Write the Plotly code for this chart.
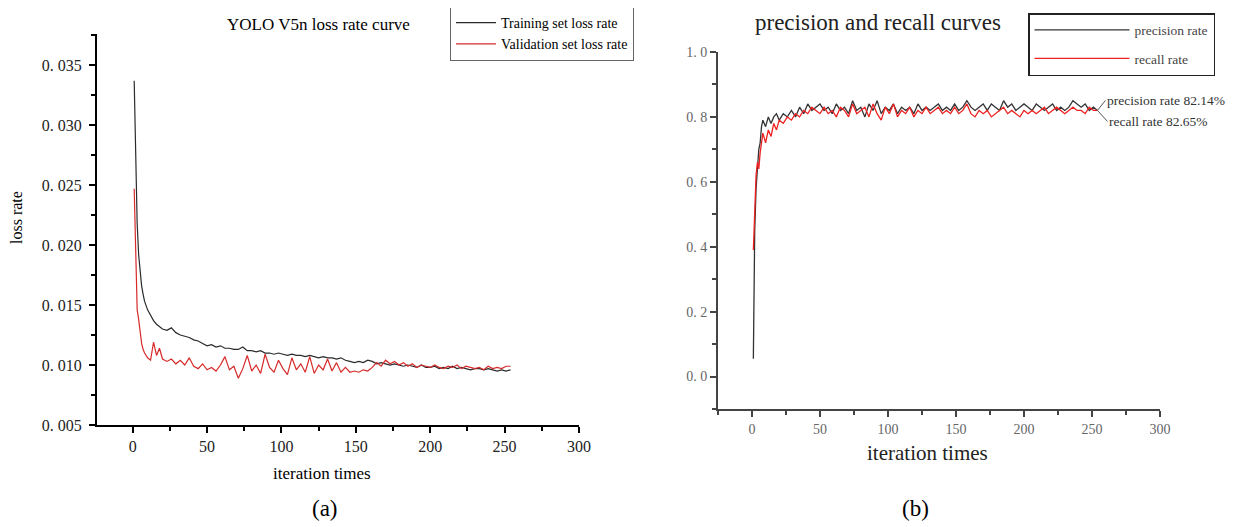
import plotly.graph_objects as go

# ---------------- data: panel (a) ----------------
iter_a = [1, 2, 3, 4, 5, 6, 7, 8, 10, 12, 14, 16, 18, 20,
          23, 26, 29, 32, 35, 38, 41, 44, 47, 50,
          53, 56, 59, 62, 65, 68, 71, 74, 77, 80,
          83, 86, 89, 92, 95, 98, 101, 104, 107, 110,
          113, 116, 119, 122, 125, 128, 131, 134, 137, 140,
          143, 146, 149, 152, 155, 158, 161, 164, 167, 170,
          173, 176, 179, 182, 185, 188, 191, 194, 197, 200,
          203, 206, 209, 212, 215, 218, 221, 224, 227, 230,
          233, 236, 239, 242, 245, 248, 251, 254]
train_loss = [0.0337, 0.0262, 0.0218, 0.0192, 0.0176, 0.0166, 0.0159, 0.0153, 0.0146, 0.0141, 0.0137, 0.0134, 0.0132, 0.0130,
              0.0129, 0.0131, 0.0127, 0.0125, 0.0124, 0.0123, 0.0121, 0.0120, 0.0118, 0.0116,
              0.0117, 0.0115, 0.0116, 0.0114, 0.0114, 0.0113, 0.0113, 0.0115, 0.0112, 0.0112,
              0.0111, 0.0112, 0.0110, 0.0110, 0.0109, 0.0110, 0.0109, 0.0108, 0.0109, 0.0108,
              0.0108, 0.0107, 0.0108, 0.0107, 0.0106, 0.0107, 0.0106, 0.0106, 0.0105, 0.0106,
              0.0104, 0.0103, 0.0102, 0.0103, 0.0102, 0.0104, 0.0103, 0.0101, 0.0102, 0.0101,
              0.0100, 0.0101, 0.0100, 0.0099, 0.0100, 0.0099, 0.0098, 0.0100, 0.0098, 0.0098,
              0.0099, 0.0097, 0.0098, 0.0097, 0.0099, 0.0097, 0.0098, 0.0097, 0.0096, 0.0097,
              0.0097, 0.0096, 0.0097, 0.0096, 0.0095, 0.0096, 0.0095, 0.0096]
val_loss = [0.0247, 0.0198, 0.0146, 0.0138, 0.0126, 0.0118, 0.0113, 0.0110, 0.0106, 0.0104, 0.0119, 0.0108, 0.0114, 0.0105,
            0.0103, 0.0105, 0.0101, 0.0104, 0.0100, 0.0106, 0.0099, 0.0097, 0.0101, 0.0096,
            0.0098, 0.0095, 0.0100, 0.0107, 0.0096, 0.0099, 0.0089, 0.0097, 0.0108, 0.0095,
            0.0100, 0.0093, 0.0109, 0.0098, 0.0094, 0.0104, 0.0097, 0.0092, 0.0106, 0.0096,
            0.0101, 0.0094, 0.0107, 0.0093, 0.0100, 0.0096, 0.0105, 0.0095, 0.0102, 0.0094,
            0.0098, 0.0094, 0.0095, 0.0094, 0.0096, 0.0095, 0.0098, 0.0102, 0.0099, 0.0104,
            0.0101, 0.0103, 0.0100, 0.0102, 0.0099, 0.0101, 0.0098, 0.0100, 0.0099, 0.0098,
            0.0100, 0.0098, 0.0097, 0.0099, 0.0098, 0.0100, 0.0097, 0.0099, 0.0098, 0.0097,
            0.0098, 0.0096, 0.0099, 0.0097, 0.0098, 0.0097, 0.0099, 0.0099]
loss_ticks = [0.005, 0.010, 0.015, 0.020, 0.025, 0.030, 0.035]
loss_ticklabels = ["0. 005", "0. 010", "0. 015", "0. 020", "0. 025", "0. 030", "0. 035"]

# ---------------- data: panel (b) ----------------
iter_b = iter_a[:]
precision = [0.055, 0.45, 0.58, 0.66, 0.70, 0.72, 0.77, 0.79, 0.77, 0.80, 0.78, 0.80, 0.81, 0.79,
             0.81, 0.80, 0.82, 0.80, 0.83, 0.81, 0.84, 0.82, 0.83, 0.84,
             0.82, 0.83, 0.81, 0.84, 0.82, 0.83, 0.81, 0.85, 0.82, 0.83,
             0.80, 0.84, 0.82, 0.85, 0.81, 0.83, 0.82, 0.84, 0.81, 0.83,
             0.82, 0.83, 0.81, 0.84, 0.82, 0.83, 0.82, 0.83, 0.84, 0.82,
             0.83, 0.82, 0.84, 0.82, 0.83, 0.85, 0.83, 0.82, 0.83, 0.84,
             0.82, 0.84, 0.83, 0.82, 0.85, 0.83, 0.84, 0.82, 0.83, 0.84,
             0.83, 0.82, 0.84, 0.83, 0.82, 0.83, 0.84, 0.82, 0.83, 0.82,
             0.83, 0.85, 0.84, 0.83, 0.84, 0.82, 0.83, 0.82]
recall = [0.39, 0.50, 0.62, 0.66, 0.64, 0.69, 0.73, 0.75, 0.72, 0.76, 0.74, 0.78, 0.76, 0.79,
          0.78, 0.80, 0.79, 0.81, 0.80, 0.82, 0.81, 0.83, 0.82, 0.81,
          0.83, 0.81, 0.82, 0.80, 0.83, 0.82, 0.80, 0.84, 0.81, 0.82,
          0.83, 0.80, 0.84, 0.81, 0.79, 0.83, 0.81, 0.84, 0.80, 0.82,
          0.81, 0.83, 0.80, 0.82, 0.81, 0.83, 0.81, 0.82, 0.83, 0.81,
          0.82, 0.81, 0.83, 0.81, 0.82, 0.84, 0.81, 0.80, 0.82, 0.81,
          0.82, 0.80, 0.81, 0.82, 0.83, 0.81, 0.82, 0.81, 0.80, 0.82,
          0.81, 0.82, 0.81, 0.82, 0.83, 0.81, 0.82, 0.83, 0.82, 0.81,
          0.82, 0.83, 0.82, 0.82, 0.81, 0.83, 0.82, 0.82]
pr_ticks = [0.0, 0.2, 0.4, 0.6, 0.8, 1.0]
pr_ticklabels = ["0. 0", "0. 2", "0. 4", "0. 6", "0. 8", "1. 0"]
x_ticks = [0, 50, 100, 150, 200, 250, 300]

SERIF = "Liberation Serif"
W, H = 1246, 527
OFF = 8  # page body margin offset

fig = go.Figure()
fig.add_trace(go.Scatter(x=iter_a, y=train_loss, mode="lines", name="Training set loss rate",
                         line=dict(color="#2b2b2b", width=1.2), xaxis="x", yaxis="y",
                         legend="legend"))
fig.add_trace(go.Scatter(x=iter_a, y=val_loss, mode="lines", name="Validation set loss rate",
                         line=dict(color="#d62a2a", width=1.2), xaxis="x", yaxis="y",
                         legend="legend"))
fig.add_trace(go.Scatter(x=iter_b, y=precision, mode="lines", name="precision rate",
                         line=dict(color="#333333", width=1.3), xaxis="x2", yaxis="y2",
                         legend="legend2", legendgroup="b1"))
fig.add_trace(go.Scatter(x=iter_b, y=recall, mode="lines", name="recall rate",
                         line=dict(color="#ee2020", width=1.3), xaxis="x2", yaxis="y2",
                         legend="legend2", legendgroup="b2"))

def px_x(p):
    return (p - OFF) / W

def px_y(p):
    return 1 - (p - OFF) / H

axis_common = dict(showgrid=False, zeroline=False, showline=True, ticks="outside",
                   mirror=False, automargin=False)

fig.update_layout(
    width=W, height=H,
    margin=dict(l=0, r=0, t=0, b=0, autoexpand=False),
    paper_bgcolor="white", plot_bgcolor="white",
    font=dict(family=SERIF, color="black"),
    showlegend=True,
    xaxis=dict(domain=[px_x(97), px_x(579)], range=[-24, 300], anchor="y",
               tickvals=x_ticks, linecolor="black", linewidth=2, tickcolor="black",
               ticklen=6, tickwidth=2, tickfont=dict(size=16, family=SERIF, color="#222"),
               minor=dict(dtick=25, tick0=0, ticks="outside", ticklen=4, tickwidth=1.5,
                          tickcolor="black"),
               **axis_common),
    yaxis=dict(domain=[px_y(425), px_y(34)], range=[0.005, 0.0376], anchor="x",
               tickvals=loss_ticks, ticktext=loss_ticklabels, linecolor="black", linewidth=2,
               tickcolor="black", ticklen=6, tickwidth=2, ticklabelstandoff=4,
               tickfont=dict(size=16, family=SERIF, color="#222"),
               minor=dict(dtick=0.0025, tick0=0.005, ticks="outside", ticklen=4, tickwidth=1.5,
                          tickcolor="black"),
               **axis_common),
    xaxis2=dict(domain=[px_x(718), px_x(1160)], range=[-25, 300], anchor="y2",
                tickvals=x_ticks, linecolor="#444", linewidth=2, tickcolor="#444",
                ticklen=6, tickwidth=2, tickfont=dict(size=14, family=SERIF, color="#666"),
                minor=dict(dtick=25, tick0=0, ticks="outside", ticklen=4, tickwidth=1.5,
                           tickcolor="#444"),
                **axis_common),
    yaxis2=dict(domain=[px_y(409), px_y(52)], range=[-0.1, 1.0], anchor="x2",
                tickvals=pr_ticks, ticktext=pr_ticklabels, linecolor="#444", linewidth=2,
                tickcolor="#444", ticklen=6, tickwidth=2,
                tickfont=dict(size=14, family=SERIF, color="#666"),
                minor=dict(dtick=0.1, tick0=0, ticks="outside", ticklen=4, tickwidth=1.5,
                           tickcolor="#444"),
                **axis_common),
    legend=dict(x=px_x(450), y=px_y(6), xanchor="left", yanchor="top",
                bordercolor="#666", borderwidth=1, bgcolor="white",
                font=dict(size=14, family=SERIF, color="black"),
                itemwidth=40, traceorder="normal"),
    legend2=dict(x=px_x(1028), y=px_y(13), xanchor="left", yanchor="top",
                 bordercolor="#222", borderwidth=1.5, bgcolor="white",
                 font=dict(size=13.5, family=SERIF, color="#444"),
                 itemwidth=95, traceorder="grouped", tracegroupgap=8),
)

annots = [
    dict(text="YOLO V5n loss rate curve", x=px_x(318), y=px_y(24), xref="paper", yref="paper",
         showarrow=False, font=dict(size=17, family=SERIF, color="black"),
         xanchor="center", yanchor="middle"),
    dict(text="loss rate", x=px_x(17), y=px_y(218), xref="paper", yref="paper",
         showarrow=False, textangle=-90, font=dict(size=16, family=SERIF, color="black"),
         xanchor="center", yanchor="middle"),
    dict(text="iteration times", x=px_x(322), y=px_y(473), xref="paper", yref="paper",
         showarrow=False, font=dict(size=17, family=SERIF, color="black"),
         xanchor="center", yanchor="middle"),
    dict(text="(a)", x=px_x(325), y=px_y(508), xref="paper", yref="paper",
         showarrow=False, font=dict(size=23, family=SERIF, color="black"),
         xanchor="center", yanchor="middle"),
    dict(text="precision and recall curves", x=px_x(878), y=px_y(22), xref="paper", yref="paper",
         showarrow=False, font=dict(size=23, family=SERIF, color="#222"),
         xanchor="center", yanchor="middle"),
    dict(text="iteration times", x=px_x(928), y=px_y(453), xref="paper", yref="paper",
         showarrow=False, font=dict(size=21, family=SERIF, color="#222"),
         xanchor="center", yanchor="middle"),
    dict(text="(b)", x=px_x(915), y=px_y(508), xref="paper", yref="paper",
         showarrow=False, font=dict(size=23, family=SERIF, color="black"),
         xanchor="center", yanchor="middle"),
    dict(text="precision rate 82.14%", x=iter_b[-1], y=precision[-1], xref="x2", yref="y2",
         showarrow=True, arrowhead=0, arrowwidth=1, arrowcolor="#555", ax=8, ay=-10,
         xanchor="left", yanchor="middle", font=dict(size=13.5, family=SERIF, color="#333")),
    dict(text="recall rate 82.65%", x=iter_b[-1], y=recall[-1], xref="x2", yref="y2",
         showarrow=True, arrowhead=0, arrowwidth=1, arrowcolor="#555", ax=10, ay=11,
         xanchor="left", yanchor="middle", font=dict(size=13.5, family=SERIF, color="#333")),
]
fig.update_layout(annotations=annots)

fig.write_html("out.html")
